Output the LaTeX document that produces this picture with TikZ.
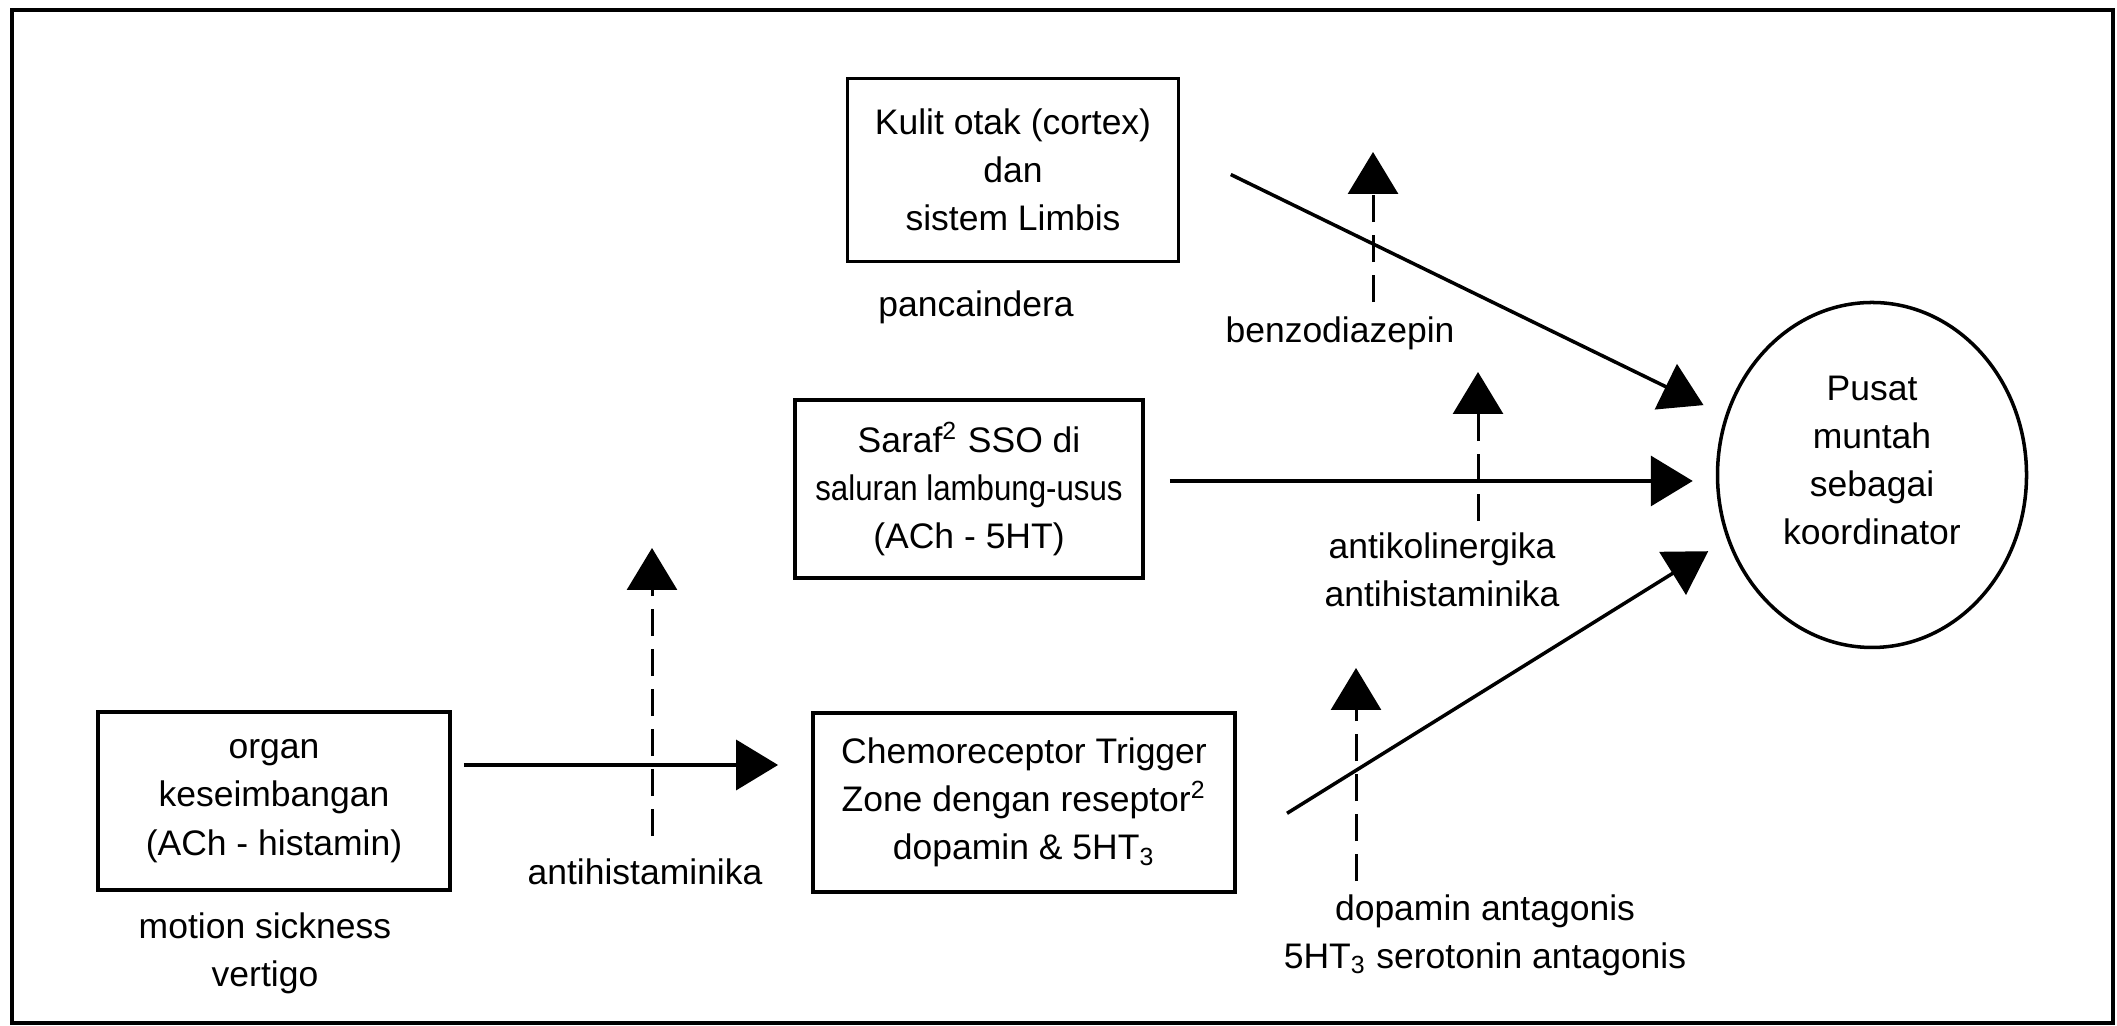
\documentclass[tikz,border=0pt]{standalone}
\usepackage{fontspec}
\setmainfont{Liberation Sans}
\usetikzlibrary{positioning}
\usetikzlibrary{shapes.geometric}
\usetikzlibrary{arrows.meta}

\begin{document}
\begin{tikzpicture}[
      >={Triangle[length=4.2mm, width=5mm]},
      box/.style={rectangle, draw, line width=1.1pt, align=center, inner sep=0pt},
      hub/.style={ellipse, draw, line width=1pt, minimum width=3.09cm,
        minimum height=3.45cm, align=center, inner sep=0pt, text depth=8.5pt},
      note/.style={align=center, inner sep=1pt},
      flow/.style={->, line width=1pt},
      block/.style={->, line width=0.85pt, dash pattern=on 2.7mm off 1.3mm},
      every node/.style={font=\fontsize{10.1}{13.7}\selectfont}]

      \useasboundingbox (0,0) rectangle (21.17,10.26);
      \draw[line width=1.3pt] (0.12,0.03) rectangle (21.13,10.16);

      % sources
      \node[box, minimum width=3.31cm, minimum height=1.83cm] (kulit) at (10.13,8.56)
        {Kulit otak (cortex)\\dan\\sistem Limbis};
      \node[box, minimum width=3.48cm, minimum height=1.78cm] (saraf) at (9.69,5.37)
        {Saraf\textsuperscript{2} SSO di\\\scalebox{0.88}[1]{saluran lambung-usus}\\(ACh - 5HT)};
      \node[box, minimum width=3.52cm, minimum height=1.78cm] (organ) at (2.74,2.25)
        {organ\\keseimbangan\\(ACh - histamin)};
      \node[box, minimum width=4.22cm, minimum height=1.79cm] (ctz) at (10.24,2.235)
        {Chemoreceptor Trigger\\Zone dengan reseptor\textsuperscript{2}\\dopamin \& 5HT\textsubscript{3}};
      \node[hub] (pusat) at (18.72,5.51) {Pusat\\muntah\\sebagai\\koordinator};

      % side labels
      \node[note] (panca) at (9.76,7.19) {pancaindera};
      \node[note] (motion) at (2.65,0.725) {motion sickness\\vertigo};

      % drug labels
      \node[note] (antihis) at (6.45,1.54) {antihistaminika};
      \node[note] (benzo) at (13.40,6.93) {benzodiazepin};
      \node[note] (antikol) at (14.42,4.565) {antikolinergika\\antihistaminika};
      \node[note] (dopa) at (14.85,0.91) {dopamin antagonis\\5HT\textsubscript{3} serotonin antagonis};

      \coordinate (ahtip) at (6.52,4.78);
      \coordinate (bztip) at (13.73,8.74);
      \coordinate (aktip) at (14.78,6.54);
      \coordinate (dptip) at (13.56,3.58);

      % pathways
      \draw[flow, shorten <=1.2mm, shorten >=3.3mm]
        ([yshift=3.6mm]organ.east) -- ([yshift=3.6mm]organ.east -| ctz.west);
      \draw[flow, shorten <=2.5mm, shorten >=2.3mm]
        ([yshift=0.8mm]saraf.east) -- ([yshift=0.8mm]saraf.east -| pusat.west);
      \draw[flow, shorten <=5.6mm, shorten >=2.4mm] ([yshift=2mm]kulit.east) -- (pusat.158);
      \draw[flow, shorten <=5.9mm, shorten >=2.2mm] ([yshift=-4.2mm]ctz.east) -- (pusat.204);

      % blocking drugs
      \foreach \lab/\tip/\gap in {antihis/ahtip/1.85mm, benzo/bztip/1mm, antikol/aktip/0.7mm, dopa/dptip/0.9mm}{
        \draw[block, shorten <=\gap] (\tip |- \lab.north) -- (\tip);
      }
    \end{tikzpicture}
\end{document}
